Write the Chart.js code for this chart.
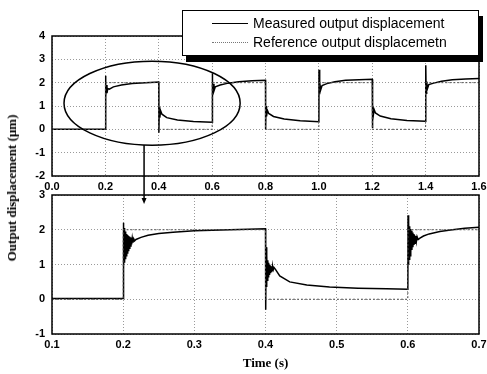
<!DOCTYPE html>
<html>
<head>
<meta charset="utf-8">
<script src="https://cdn.jsdelivr.net/npm/chart.js@4/dist/chart.umd.min.js"></script>
<style>
  body { margin: 0; background: #fff; }
  #wrap { position: relative; width: 487px; height: 374px; overflow: hidden; }
  canvas { position: absolute; left: 0; top: 0; }
  #ytitle {
    position: absolute; left: 12px; top: 188px; white-space: nowrap;
    font: bold 13px "Liberation Serif", serif;
    transform: translate(-50%, -50%) rotate(-90deg);
  }
  #legend {
    position: absolute; left: 182px; top: 10px; width: 295px; height: 44px;
    border: 1px solid #000; background: #fff; box-shadow: 4px 6px 0 #000;
    font: 14px "Liberation Sans", Arial, sans-serif;
  }
  .row { position: absolute; left: 29px; display: flex; align-items: center; }
  .row span { margin-left: 5px; }
  .solid { width: 36px; border-top: 1.5px solid #000; }
  .dots { width: 36px; border-top: 1px dotted #777; }
</style>
</head>
<body>
<div id="wrap">
  <canvas id="top" width="495" height="374"></canvas>
  <canvas id="bottom" width="495" height="374"></canvas>
  <div id="ytitle">Output displacement (μm)</div>
  <div id="legend">
    <div class="row" style="top:4px"><div class="solid"></div><span>Measured output displacement</span></div>
    <div class="row" style="top:23px"><div class="dots"></div><span>Reference output displacemetn</span></div>
  </div>
</div>
<script>
// top panel: full run 0 - 1.6 s
const topTime = [0, 0.2, 0.2005, 0.202, 0.204, 0.206, 0.209, 0.215, 0.23, 0.26, 0.3, 0.35, 0.4,
  0.4005, 0.402, 0.404, 0.407, 0.412, 0.43, 0.47, 0.53, 0.6,
  0.6005, 0.602, 0.604, 0.607, 0.612, 0.63, 0.66, 0.7, 0.75, 0.8,
  0.8005, 0.802, 0.804, 0.807, 0.812, 0.83, 0.87, 0.93, 1.0,
  1.0005, 1.002, 1.004, 1.007, 1.012, 1.03, 1.06, 1.1, 1.15, 1.2,
  1.2005, 1.202, 1.204, 1.207, 1.212, 1.23, 1.27, 1.33, 1.4,
  1.4005, 1.402, 1.404, 1.407, 1.412, 1.43, 1.46, 1.5, 1.55, 1.6];
const topMeasured = [0, 0, 2.3, 1.4, 1.9, 1.55, 1.75, 1.72, 1.82, 1.9, 1.96, 2.0, 2.03,
  -0.15, 0.95, 0.5, 0.8, 0.65, 0.5, 0.4, 0.34, 0.3,
  2.4, 1.45, 1.95, 1.65, 1.82, 1.9, 1.98, 2.04, 2.08, 2.1,
  0.0, 1.0, 0.55, 0.82, 0.68, 0.55, 0.44, 0.37, 0.33,
  2.55, 1.5, 2.0, 1.7, 1.88, 1.96, 2.04, 2.1, 2.13, 2.15,
  0.05, 1.05, 0.6, 0.85, 0.7, 0.57, 0.45, 0.38, 0.35,
  2.75, 1.55, 2.05, 1.75, 1.92, 1.98, 2.06, 2.12, 2.16, 2.18];
const topRefTime = [0, 0.2, 0.2, 0.4, 0.4, 0.6, 0.6, 0.8, 0.8, 1.0, 1.0, 1.2, 1.2, 1.4, 1.4, 1.6];
const topRefValue = [0, 0, 2, 2, 0, 0, 2, 2, 0, 0, 2, 2, 0, 0, 2, 2];

// bottom panel: zoom 0.1 - 0.7 s
const bottomTime = [0.1, 0.2,
  0.2003, 0.2008, 0.2014, 0.202, 0.2026, 0.2032, 0.2038, 0.2044, 0.205, 0.2057, 0.2064, 0.2071,
  0.2078, 0.2086, 0.2094, 0.2102, 0.211, 0.2119, 0.2128, 0.2138, 0.2148, 0.216, 0.218,
  0.225, 0.235, 0.25, 0.27, 0.3, 0.35, 0.4,
  0.4003, 0.4008, 0.4014, 0.402, 0.4026, 0.4032, 0.4038, 0.4044, 0.405, 0.4057, 0.4064, 0.4071,
  0.4078, 0.4086, 0.4094, 0.4102, 0.411, 0.412, 0.414, 0.42, 0.434, 0.458, 0.49, 0.53, 0.57, 0.6,
  0.6003, 0.6008, 0.6014, 0.602, 0.6026, 0.6032, 0.6038, 0.6044, 0.605, 0.6057, 0.6064, 0.6071,
  0.6078, 0.6086, 0.6094, 0.6102, 0.611, 0.612, 0.613, 0.6145, 0.617, 0.622, 0.63, 0.645, 0.66, 0.68, 0.7];
const bottomMeasured = [0.02, 0.02,
  2.2, 0.9, 2.05, 1.05, 1.95, 1.15, 1.9, 1.25, 1.88, 1.33, 1.85, 1.4,
  1.82, 1.47, 1.8, 1.53, 1.78, 1.58, 1.76, 1.63, 1.74, 1.68, 1.72,
  1.78, 1.84, 1.89, 1.93, 1.97, 2.0, 2.03,
  -0.3, 1.5, 0.35, 1.25, 0.55, 1.12, 0.65, 1.05, 0.72, 1.0, 0.77, 0.97,
  0.8, 0.95, 0.83, 0.93, 0.85, 0.91, 0.86, 0.67, 0.5, 0.41, 0.35, 0.32, 0.3, 0.29,
  2.42, 1.0, 2.2, 1.15, 2.1, 1.25, 2.02, 1.35, 1.97, 1.42, 1.92, 1.5,
  1.88, 1.56, 1.85, 1.61, 1.82, 1.66, 1.8, 1.72, 1.76, 1.82, 1.88, 1.95, 1.99, 2.04, 2.07];
const bottomRefTime = [0.1, 0.2, 0.2, 0.4, 0.4, 0.6, 0.6, 0.7];
const bottomRefValue = [0, 0, 2, 2, 0, 0, 2, 2];

Chart.defaults.font.family = '"Liberation Sans", Arial, sans-serif';
Chart.defaults.color = '#000';

const pts = (xs, ys) => xs.map((x, i) => ({ x: x, y: ys[i] }));

const frame = {
  id: 'frame',
  afterDatasetsDraw(chart) {
    const a = chart.chartArea;
    const ctx = chart.ctx;
    ctx.save();
    ctx.strokeStyle = '#000';
    ctx.lineWidth = 1.5;
    ctx.strokeRect(a.left, a.top, a.right - a.left, a.bottom - a.top);
    ctx.restore();
  },
};

// ellipse round the first cycle and the arrow down to the zoom panel
const callout = {
  id: 'callout',
  afterDraw(chart) {
    const xs = chart.scales.x, ys = chart.scales.y;
    const cx = xs.getPixelForValue(0.375), cy = ys.getPixelForValue(1.12);
    const rx = xs.getPixelForValue(0.705) - cx, ry = ys.getPixelForValue(-0.68) - cy;
    const ctx = chart.ctx;
    ctx.save();
    ctx.strokeStyle = '#000';
    ctx.lineWidth = 1.5;
    ctx.beginPath();
    ctx.ellipse(cx, cy, rx, ry, 0, 0, Math.PI * 2);
    ctx.stroke();
    const ax = xs.getPixelForValue(0.345);
    const y0 = cy + ry * Math.sqrt(1 - Math.pow((ax - cx) / rx, 2));
    const y1 = chart.chartArea.bottom + 28;
    ctx.beginPath();
    ctx.moveTo(ax, y0);
    ctx.lineTo(ax, y1 - 4);
    ctx.stroke();
    ctx.beginPath();
    ctx.moveTo(ax - 2.5, y1 - 6);
    ctx.lineTo(ax + 2.5, y1 - 6);
    ctx.lineTo(ax, y1);
    ctx.closePath();
    ctx.fillStyle = '#000';
    ctx.fill();
    ctx.restore();
  },
};

function makeOptions(xMin, xMax, xStep, yMin, yMax, padTop, padBottom, xHeight, xTitle) {
  const gridStyle = { color: '#9a9a9a', lineWidth: 1, drawTicks: false };
  const borderStyle = { display: false, dash: [1, 2] };
  const tickFont = { size: 11, weight: 'bold' };
  return {
    responsive: false,
    animation: false,
    layout: { padding: { top: padTop, bottom: padBottom, left: 0, right: 16 } },
    plugins: { legend: { display: false }, tooltip: { enabled: false } },
    scales: {
      x: {
        type: 'linear', min: xMin, max: xMax,
        grid: gridStyle, border: borderStyle,
        ticks: { stepSize: xStep, padding: 4, font: tickFont, maxRotation: 0,
          callback: (v) => v.toFixed(1) },
        title: xTitle ? { display: true, text: xTitle, padding: { top: 0, bottom: 3 },
          font: { family: '"Liberation Serif", serif', size: 13, weight: 'bold' } } : { display: false },
        afterFit: (s) => { s.height = xHeight; },
      },
      y: {
        min: yMin, max: yMax,
        grid: gridStyle, border: borderStyle,
        ticks: { stepSize: 1, padding: 7, font: tickFont },
        afterFit: (s) => { s.width = 52; },
      },
    },
  };
}

function datasets(t, m, rt, rv) {
  return [
    { data: pts(rt, rv), borderColor: '#555', borderWidth: 1, borderDash: [2, 2],
      pointRadius: 0, fill: false },
    { data: pts(t, m), borderColor: '#000', borderWidth: 1.5, pointRadius: 0,
      fill: false, tension: 0 },
  ];
}

new Chart(document.getElementById('top'), {
  type: 'line',
  data: { datasets: datasets(topTime, topMeasured, topRefTime, topRefValue) },
  options: makeOptions(0, 1.6, 0.2, -2, 4, 36, 178, 20, null),
  plugins: [frame, callout],
});

new Chart(document.getElementById('bottom'), {
  type: 'line',
  data: { datasets: datasets(bottomTime, bottomMeasured, bottomRefTime, bottomRefValue) },
  options: makeOptions(0.1, 0.7, 0.1, -1, 3, 195, 0, 40, 'Time (s)'),
  plugins: [frame],
});
</script>
</body>
</html>
